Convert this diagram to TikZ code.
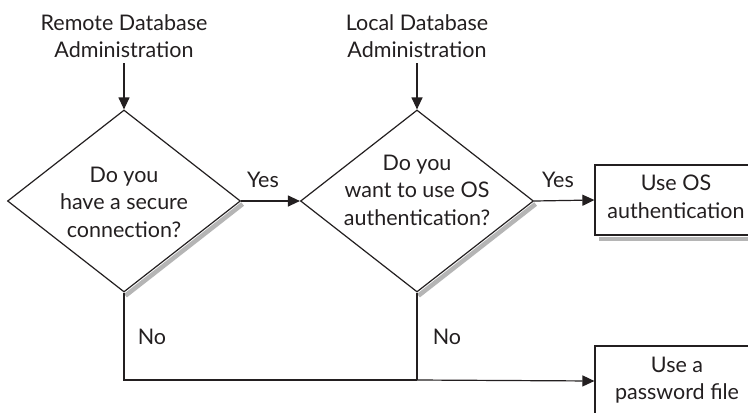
\documentclass[tikz,border=0pt]{standalone}
\usepackage{fontspec}
\setmainfont{Lato}
\usetikzlibrary{shapes.geometric,arrows.meta}
\definecolor{ink}{HTML}{231F20}
\definecolor{shade}{HTML}{B5B5B5}
\begin{document}
\begin{tikzpicture}[x=1bp,y=-1bp,
  line/.style={draw=ink,line width=1.2bp},
  arr/.style={line,-{Triangle[length=12bp,width=11bp]}},
  dia/.style={diamond,line,minimum width=233bp,minimum height=182bp,inner sep=0pt},
  txt/.style={text=ink,align=center,font=\fontsize{21.5bp}{27.5bp}\selectfont,inner sep=0pt},
  boxn/.style={rectangle,line,minimum width=162bp,minimum height=70bp,inner sep=0pt},
  shadowline/.style={draw=shade,line width=4.5bp}]
\clip (0,0) rectangle (748,412);
\fill[white] (0,0) rectangle (748,412);
% shapes
\node[dia] (d1) at (124,201) {};
\node[dia] (d2) at (417,201) {};
\node[boxn] (b1) at (676,200) {};
\node[boxn] (b2) at (676,381) {};
% shadows
\draw[shadowline] ([shift={(1.5,3)}]d1.east) -- ([shift={(1.5,3)}]d1.south);
\draw[shadowline] ([shift={(1.5,3)}]d2.east) -- ([shift={(1.5,3)}]d2.south);
\draw[shadowline] ([shift={(5,3.5)}]b1.south west) -- ([shift={(5,3.5)}]b1.south east);
% texts
\node[txt] (q1) at (124,202) {Do you\\have a secure\\connection?};
\node[txt] (q2) at (417,190) {Do you\\want to use OS\\authentication?};
\node[txt] (r1) at (676,197) {Use OS\\authentication};
\node[txt] (r2) at (677,380) {Use a\\password file};
\node[txt] (t1) at (124,36) {Remote Database\\Administration};
\node[txt] (t2) at (417,36) {Local Database\\Administration};
\node[txt] (y1) at (263,180) {Yes};
\node[txt] (y2) at (558,180) {Yes};
\node[txt] (n1) at (152,337) {No};
\node[txt] (n2) at (447,337) {No};
\coordinate (c1) at (124,380);
\coordinate (c2) at (417,380);
% connectors
\draw[arr] (t1.south |- 0,63) -- (d1.north);
\draw[arr] (t2.south |- 0,63) -- (d2.north);
\draw[arr] (d1.east) -- (d2.west);
\draw[arr] (d2.east) -- (b1.west);
\draw[line] (d1.south) -- (c1) -- (c2);
\draw[line] (d2.south) -- (c2);
\draw[arr] (c2) -- (b2.west);
\end{tikzpicture}
\end{document}
